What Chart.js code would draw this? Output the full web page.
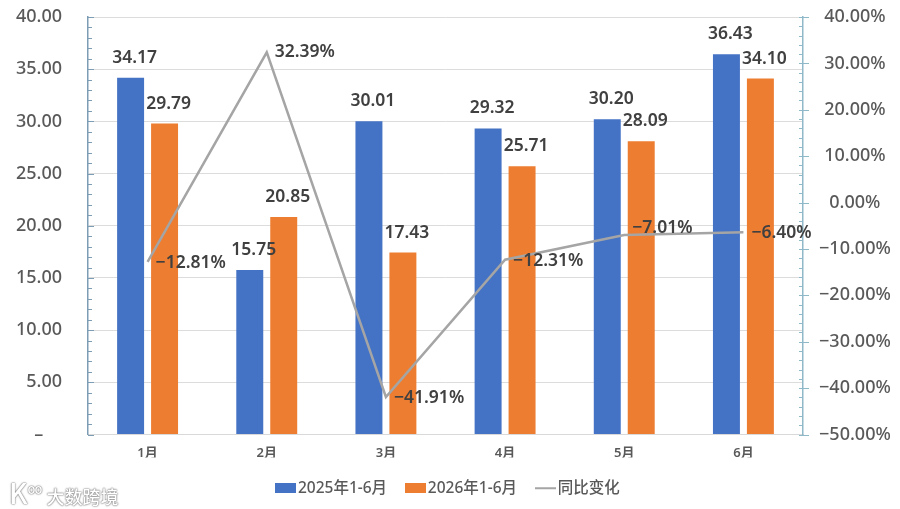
<!DOCTYPE html>
<html>
<head>
<meta charset="utf-8">
<style>
  html, body { margin: 0; padding: 0; background: #fff; overflow: hidden; }
  #wrap { position: relative; width: 900px; height: 509px; }
  .mark { position: absolute; left: 9px; top: 477px; height: 28px; line-height: 30px; color: #fff; font-family: "Noto Sans CJK SC", sans-serif;
    font-size: 18px; font-weight: 500; text-shadow: 0 0 2px #666, 0 0 1px #666; white-space: nowrap; }
  .mark .k { font-size: 28px; }
  .mark .o { font-size: 13px; position: relative; top: -10px; margin-right: 5px; letter-spacing: -1px; }
</style>
</head>
<body>
<div id="wrap">
  <canvas id="chart" width="900" height="509"></canvas>
  <div class="mark"><span class="k">K</span><span class="o">oo</span>大数跨境</div>
</div>
<script src="https://cdn.jsdelivr.net/npm/chart.js@4/dist/chart.umd.min.js"></script>
<script>
const months = ['1月', '2月', '3月', '4月', '5月', '6月'];
const sales2025 = [34.17, 15.75, 30.01, 29.32, 30.20, 36.43];
const sales2026 = [29.79, 20.85, 17.43, 25.71, 28.09, 34.10];
const yoyChange = [-12.81, 32.39, -41.91, -12.31, -7.01, -6.40];

const FONT = '"Noto Sans", "Noto Sans CJK SC", sans-serif';
const fmtPct = (v) => v.toFixed(2).replace('-', '\u2212') + '%';

// small swatches for the legend, the line entry has to look different from the boxes
const swatch = (color, h) => {
    const c = document.createElement('canvas');
    c.width = 21;
    c.height = 10;
    const x = c.getContext('2d');
    x.fillStyle = color;
    x.fillRect(0, (10 - h) / 2, 21, h);
    return c;
};

const minorTicks = {
    id: 'minorTicks',
    afterDatasetsDraw(chart) {
        const ctx = chart.ctx;
        const left = chart.scales.y;
        const right = chart.scales.y1;
        ctx.save();
        ctx.lineWidth = 1;
        ctx.strokeStyle = '#7d9db5';
        for (let v = 0; v <= 40; v += 1) {
            const y = Math.round(left.getPixelForValue(v)) + 0.5;
            ctx.beginPath();
            ctx.moveTo(left.right, y);
            ctx.lineTo(left.right + (v % 5 === 0 ? 6 : 4), y);
            ctx.stroke();
        }
        ctx.strokeStyle = '#8fb8c9';
        for (let v = -50; v <= 40; v += 2) {
            const y = Math.round(right.getPixelForValue(v)) + 0.5;
            ctx.beginPath();
            ctx.moveTo(right.left - 4, y);
            ctx.lineTo(right.left + (v % 10 === 0 ? 6 : 0), y);
            ctx.stroke();
        }
        ctx.restore();
    }
};

const valueLabels = {
    id: 'valueLabels',
    afterDatasetsDraw(chart) {
        const ctx = chart.ctx;
        ctx.save();
        ctx.font = '600 17.5px ' + FONT;
        ctx.fillStyle = '#404040';
        ctx.textBaseline = 'middle';
        ctx.textAlign = 'center';
        chart.getDatasetMeta(0).data.forEach((bar, i) => {
            ctx.fillText(sales2025[i].toFixed(2), bar.x + 4, bar.y - 20);
        });
        chart.getDatasetMeta(1).data.forEach((bar, i) => {
            ctx.fillText(sales2026[i].toFixed(2), bar.x + 4, bar.y - 20);
        });
        ctx.textAlign = 'left';
        chart.getDatasetMeta(2).data.forEach((pt, i) => {
            ctx.fillText(fmtPct(yoyChange[i]), pt.x + 8, pt.y + (i === 1 ? 0 : i === 4 ? -7 : 1));
        });
        ctx.restore();
    }
};

// tick padding also pads the scale ends, drop that so the plot can reach the top
const noEndPadding = (s) => {
    s.paddingTop = 0;
    s.paddingBottom = 0;
};

new Chart(document.getElementById('chart'), {
    data: {
        labels: months,
        datasets: [
            { type: 'bar', label: '2025年1-6月', data: sales2025, backgroundColor: '#4472c4', yAxisID: 'y',
              categoryPercentage: 0.57, barPercentage: 0.794, order: 2, pointStyle: swatch('#4472c4', 10) },
            { type: 'bar', label: '2026年1-6月', data: sales2026, backgroundColor: '#ed7d31', yAxisID: 'y',
              categoryPercentage: 0.57, barPercentage: 0.794, order: 2, pointStyle: swatch('#ed7d31', 10) },
            { type: 'line', label: '同比变化', data: yoyChange, borderColor: '#a5a5a5', borderWidth: 2.5, yAxisID: 'y1',
              pointRadius: 0, tension: 0, order: 1, pointStyle: swatch('#a5a5a5', 2) }
        ]
    },
    options: {
        responsive: false,
        animation: false,
        layout: { padding: { top: 17, bottom: 3 } },
        plugins: {
            title: { display: false },
            tooltip: { enabled: false },
            legend: {
                position: 'bottom',
                labels: {
                    usePointStyle: true,
                    pointStyleWidth: 10,
                    boxHeight: 10,
                    padding: 23,
                    color: '#595959',
                    font: { family: FONT, size: 15.5, weight: '500' },
                    generateLabels(chart) {
                        return chart.data.datasets.map((d, i) => ({
                            text: d.label, pointStyle: d.pointStyle, datasetIndex: i,
                            fontColor: '#595959', lineWidth: 0, hidden: false
                        }));
                    }
                }
            }
        },
        scales: {
            x: {
                grid: { display: false },
                border: { color: '#d9d9d9' },
                afterFit(s) { s.height = 23; },
                ticks: { color: '#595959', padding: 3, font: { family: FONT, size: 13, weight: '600' } }
            },
            y: {
                position: 'left',
                min: 0,
                max: 40,
                afterFit(s) { s.width = 88; noEndPadding(s); },
                grid: { color: '#dcdcdc', drawTicks: false },
                border: { color: '#7d9db5', width: 1.5 },
                ticks: {
                    stepSize: 5,
                    padding: 26,
                    color: '#595959',
                    font: { family: FONT, size: 18, weight: '500' },
                    callback: (v) => v === 0 ? '\u2013    ' : v.toFixed(2)
                }
            },
            y1: {
                position: 'right',
                min: -50,
                max: 40,
                afterFit(s) { s.width = 97; noEndPadding(s); },
                grid: { display: false, drawTicks: false },
                border: { color: '#8fb8c9', width: 1.5 },
                ticks: {
                    stepSize: 10,
                    padding: 16,
                    crossAlign: 'center',
                    color: '#595959',
                    font: { family: FONT, size: 18, weight: '500' },
                    callback: (v) => fmtPct(v)
                }
            }
        }
    },
    plugins: [minorTicks, valueLabels]
});
</script>
</body>
</html>
